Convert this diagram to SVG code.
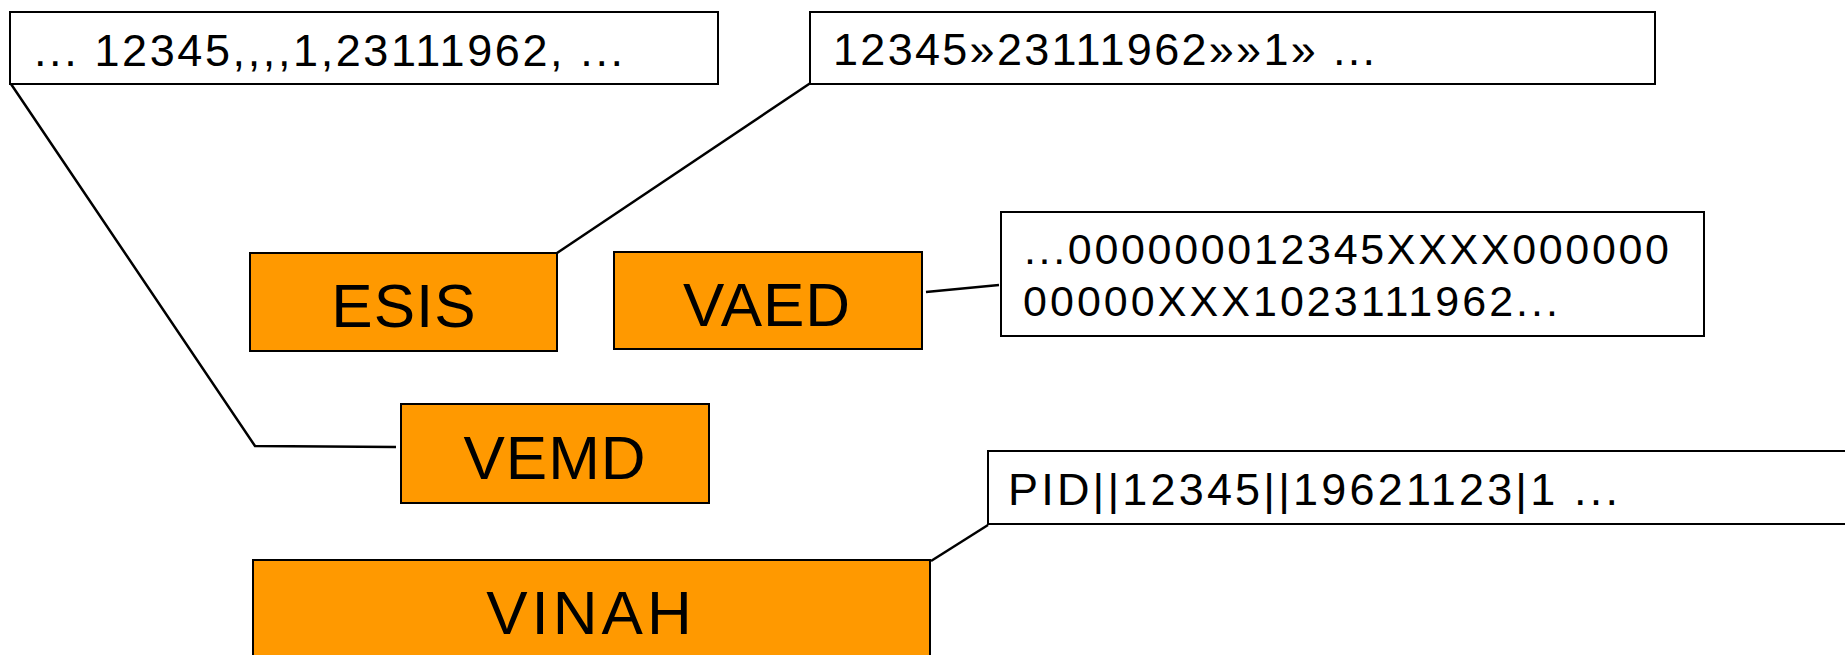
<svg xmlns="http://www.w3.org/2000/svg" width="1845" height="655" viewBox="0 0 1845 655">
<style>
.note{fill:#FFFFFF;stroke:#000000;stroke-width:2}
.box{fill:#FF9900;stroke:#000000;stroke-width:2}
.nt{font-family:"Liberation Sans",Arial,sans-serif;font-size:45px;fill:#000000}
.lbl{font-family:"Liberation Sans",Arial,sans-serif;font-size:62px;fill:#000000;text-anchor:middle;letter-spacing:1px}
.conn{fill:none;stroke:#000000;stroke-width:2.5;stroke-linejoin:miter}
</style>
<rect width="1845" height="655" fill="#FFFFFF"/>
<g id="connectors">
<polyline class="conn" points="11,84 255,446 396,447"/>
<line class="conn" x1="557" y1="253" x2="812" y2="82"/>
<line class="conn" x1="926" y1="292" x2="999" y2="285"/>
<line class="conn" x1="931" y1="561" x2="988" y2="525"/>
</g>
<g id="note-csv">
<rect class="note" x="10" y="12" width="708" height="72"/>
<text class="nt" x="34" y="66" textLength="589" lengthAdjust="spacing">... 12345,,,,1,23111962, ...</text>
</g>
<g id="note-guillemet">
<rect class="note" x="810" y="12" width="845" height="72"/>
<text class="nt" x="833" y="65" textLength="542" lengthAdjust="spacing">12345»23111962»»1» ...</text>
</g>
<g id="note-fixed">
<rect class="note" x="1001" y="212" width="703" height="124"/>
<text class="nt" x="1024" y="264" style="font-size:43px" textLength="645" lengthAdjust="spacing">...000000012345XXXX000000</text>
<text class="nt" x="1023" y="316" style="font-size:43px" textLength="535" lengthAdjust="spacing">00000XXX1023111962...</text>
</g>
<g id="note-hl7">
<rect class="note" x="988" y="451" width="870" height="73"/>
<text class="nt" x="1008" y="505" textLength="610" lengthAdjust="spacing">PID||12345||19621123|1 ...</text>
</g>
<g id="node-esis">
<rect class="box" x="250" y="253" width="307" height="98"/>
<text class="lbl" x="404" y="327">ESIS</text>
</g>
<g id="node-vaed">
<rect class="box" x="614" y="252" width="308" height="97"/>
<text class="lbl" x="767" y="326">VAED</text>
</g>
<g id="node-vemd">
<rect class="box" x="401" y="404" width="308" height="99"/>
<text class="lbl" x="555" y="479">VEMD</text>
</g>
<g id="node-vinah">
<rect class="box" x="253" y="560" width="677" height="105"/>
<text class="lbl" x="591" y="634" style="letter-spacing:4px">VINAH</text>
</g>
</svg>
